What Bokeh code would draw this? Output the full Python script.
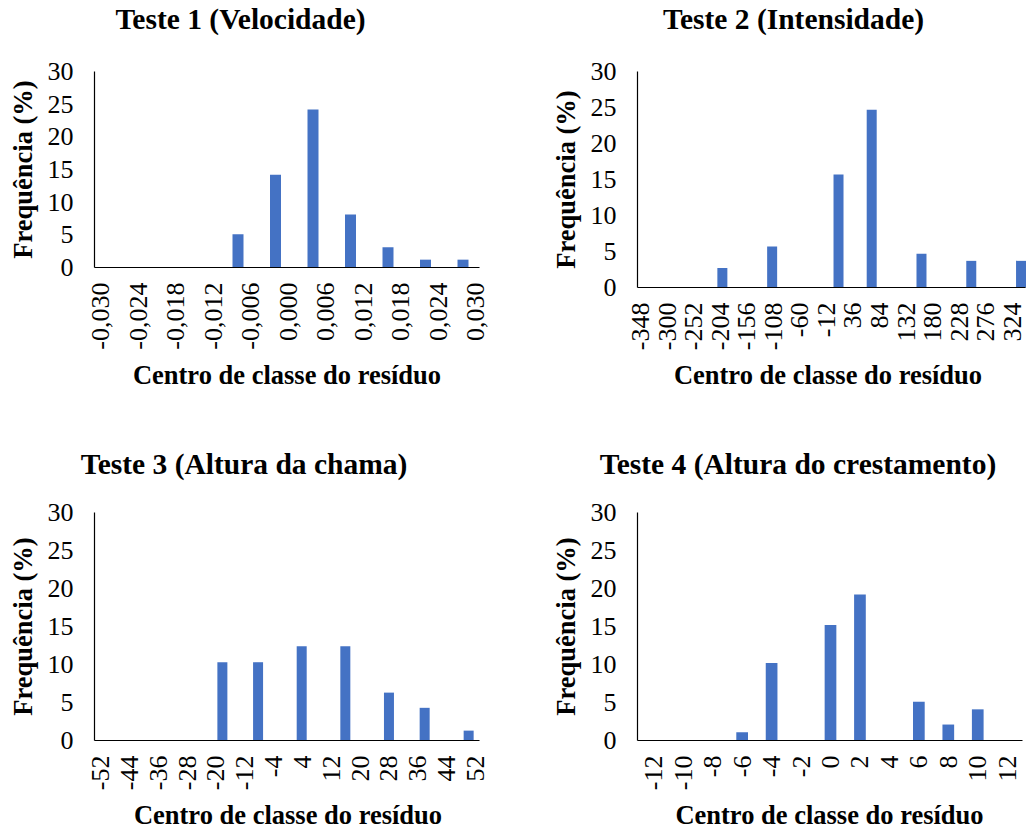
import math
from bokeh.plotting import figure
from bokeh.layouts import column, row
from bokeh.models import (FixedTicker, CustomJSTickFormatter, Range1d, Label, LinearAxis)
from bokeh.embed import file_html
from bokeh.resources import INLINE

# ---------------- data ----------------
freq_ticks = [0, 5, 10, 15, 20, 25, 30]
y_label = "Frequência (%)"
x_label = "Centro de classe do resíduo"

t1_title = "Teste 1 (Velocidade)"
t1_ticks = [-0.030, -0.024, -0.018, -0.012, -0.006, 0.000, 0.006, 0.012, 0.018, 0.024, 0.030]
t1_labels = ["-0,030", "-0,024", "-0,018", "-0,012", "-0,006", "0,000",
             "0,006", "0,012", "0,018", "0,024", "0,030"]
t1_centers = [-0.008, -0.002, 0.004, 0.010, 0.016, 0.022, 0.028]
t1_freq = [5.1, 14.2, 24.2, 8.1, 3.1, 1.2, 1.2]

t2_title = "Teste 2 (Intensidade)"
t2_ticks = [-348, -300, -252, -204, -156, -108, -60, -12, 36, 84, 132, 180, 228, 276, 324]
t2_labels = ["-348", "-300", "-252", "-204", "-156", "-108", "-60", "-12",
             "36", "84", "132", "180", "228", "276", "324"]
t2_centers = [-200, -110, 10, 70, 160, 250, 340]
t2_freq = [2.7, 5.7, 15.7, 24.7, 4.7, 3.7, 3.7]

t3_title = "Teste 3 (Altura da chama)"
t3_ticks = [-52, -44, -36, -28, -20, -12, -4, 4, 12, 20, 28, 36, 44, 52]
t3_labels = ["-52", "-44", "-36", "-28", "-20", "-12", "-4", "4",
             "12", "20", "28", "36", "44", "52"]
t3_centers = [-18.2, -8.3, 3.8, 15.9, 28.0, 37.9, 50.1]
t3_freq = [10.3, 10.3, 12.4, 12.4, 6.3, 4.3, 1.3]

t4_title = "Teste 4 (Altura do crestamento)"
t4_ticks = [-12, -10, -8, -6, -4, -2, 0, 2, 4, 6, 8, 10, 12]
t4_labels = ["-12", "-10", "-8", "-6", "-4", "-2", "0", "2", "4", "6", "8", "10", "12"]
t4_centers = [-6, -4, 0, 2, 6, 8, 10]
t4_freq = [1.1, 10.2, 15.2, 19.2, 5.1, 2.1, 4.1]

# ---------------- styling / layout ----------------
FONT = "Liberation Serif"
BAR = "#4472C4"
YMAX = 30


def make(title, ticks, labels, centers, freq, box, xcal, ycal, axis_px, bar_px,
         title_pos, xlab_pos, ylab_pos):
    """box: (x0, y0, w, h) of the figure on the page (px).
    xcal: ((tick_index_a, px_a), (tick_index_b, px_b)) calibration of the x scale.
    ycal: (px of 0, px of YMAX).  axis_px: (left px, right px) of the x axis line."""
    fx0, fy0, fw, fh = box
    (ia, pa), (ib, pb) = xcal
    va, vb = ticks[ia], ticks[ib]
    kx = (vb - va) / (pb - pa)
    py0, pyt = ycal
    ky = YMAX / (py0 - pyt)

    def X(px):
        return va + (px - pa) * kx

    def Y(py):
        return (py0 - py) * ky

    p = figure(width=fw, height=fh,
               x_range=Range1d(X(fx0), X(fx0 + fw)), y_range=Range1d(Y(fy0 + fh), Y(fy0)),
               output_backend="svg", toolbar_location=None,
               x_axis_location=None, y_axis_location=None,
               min_border=0, min_border_left=0, min_border_right=0,
               min_border_top=0, min_border_bottom=0,
               background_fill_color="white", border_fill_color="white")
    p.outline_line_color = None
    p.grid.visible = False

    p.vbar(x=centers, top=freq, bottom=0, width=bar_px * kx,
           fill_color=BAR, line_color=None)

    xa = LinearAxis(fixed_location=0, bounds=(X(axis_px[0]), X(axis_px[1])),
                    ticker=FixedTicker(ticks=ticks))
    xa.formatter = CustomJSTickFormatter(
        args=dict(vals=ticks, labels=labels),
        code="""
        let b = 0;
        for (let i = 0; i < vals.length; i++) {
            if (Math.abs(vals[i] - tick) < Math.abs(vals[b] - tick)) b = i;
        }
        return labels[b];
        """)
    xa.major_label_orientation = math.pi / 2
    xa.major_label_standoff = 15

    ya = LinearAxis(fixed_location=X(axis_px[0]), bounds=(0, YMAX),
                    ticker=FixedTicker(ticks=freq_ticks))
    ya.major_label_standoff = 21

    for ax in (xa, ya):
        ax.axis_line_color = "black"
        ax.axis_line_width = 1.2
        ax.major_tick_in = 0
        ax.major_tick_out = 0
        ax.minor_tick_in = 0
        ax.minor_tick_out = 0
        ax.major_label_text_font = FONT
        ax.major_label_text_font_size = "26px"
        ax.major_label_text_color = "black"
    p.add_layout(xa, "below")
    p.add_layout(ya, "left")

    common = dict(x_units="data", y_units="data", text_font=FONT,
                  text_font_style="bold", text_color="black")
    p.add_layout(Label(x=X(title_pos[0]), y=Y(title_pos[1]), text=title,
                       text_font_size="29.5px", text_align="center",
                       text_baseline="alphabetic", **common))
    p.add_layout(Label(x=X(xlab_pos[0]), y=Y(xlab_pos[1]), text=x_label,
                       text_font_size="26.5px", text_align="center",
                       text_baseline="alphabetic", **common))
    p.add_layout(Label(x=X(ylab_pos[0]), y=Y(ylab_pos[1]), text=y_label, angle=math.pi / 2,
                       text_font_size="26.5px", text_align="center",
                       text_baseline="middle", **common))
    return p


p1 = make(t1_title, t1_ticks, t1_labels, t1_centers, t1_freq,
          box=(0, 0, 527, 416), xcal=((0, 100), (10, 475)), ycal=(267, 71),
          axis_px=(94, 479), bar_px=11,
          title_pos=(240, 18), xlab_pos=(286.5, 374), ylab_pos=(22, 169))
p2 = make(t2_title, t2_ticks, t2_labels, t2_centers, t2_freq,
          box=(527, 0, 499, 416), xcal=((0, 640), (14, 1011.7)), ycal=(287, 71),
          axis_px=(637, 1025), bar_px=10,
          title_pos=(793, 18), xlab_pos=(827.5, 374), ylab_pos=(565, 179))
p3 = make(t3_title, t3_ticks, t3_labels, t3_centers, t3_freq,
          box=(0, 416, 527, 415), xcal=((0, 100), (13, 475)), ycal=(740, 512),
          axis_px=(94, 479), bar_px=10,
          title_pos=(243.5, 463), xlab_pos=(287.5, 814), ylab_pos=(22, 626))
p4 = make(t4_title, t4_ticks, t4_labels, t4_centers, t4_freq,
          box=(527, 416, 499, 415), xcal=((0, 653.3), (12, 1006.7)), ycal=(740, 512),
          axis_px=(637, 1022), bar_px=11.7,
          title_pos=(797.5, 463), xlab_pos=(829, 814), ylab_pos=(565, 626))

layout = column(row(p1, p2, spacing=0), row(p3, p4, spacing=0), spacing=0)
open("out.html", "w").write(file_html(layout, INLINE))
